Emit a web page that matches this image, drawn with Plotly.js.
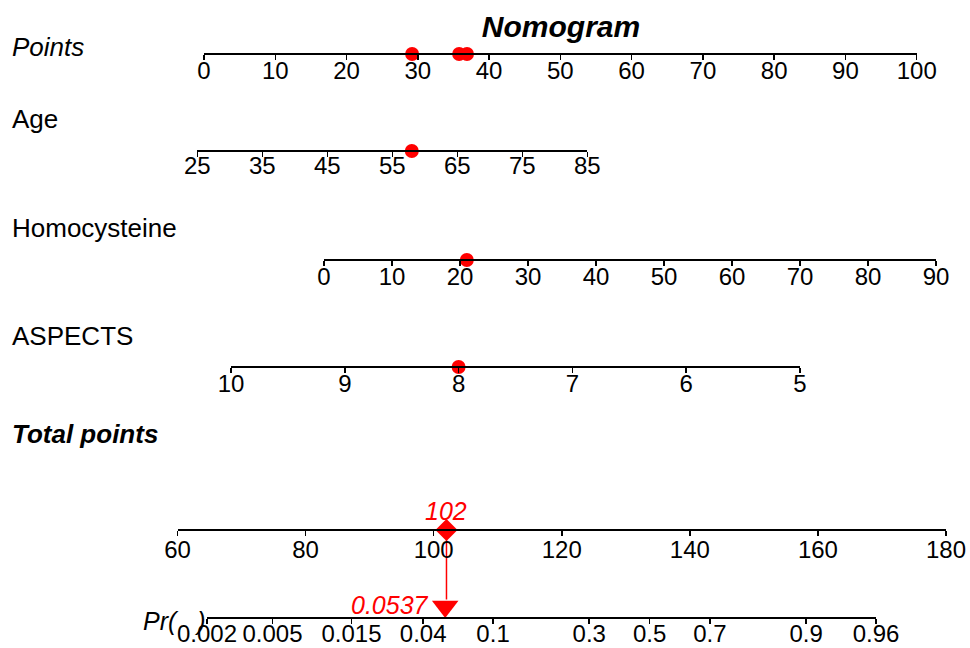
<!DOCTYPE html>
<html>
<head>
<meta charset="utf-8">
<script src="https://cdn.plot.ly/plotly-3.0.1.min.js"></script>
<style>html,body{margin:0;padding:0;background:#fff;}</style>
</head>
<body>
<div id="chart" style="width:970px;height:648px;"></div>
<script>
// ---------- data ----------
const pointsTicks = [0, 10, 20, 30, 40, 50, 60, 70, 80, 90, 100];
const ageTicks = [25, 35, 45, 55, 65, 75, 85];
const hcyTicks = [0, 10, 20, 30, 40, 50, 60, 70, 80, 90];
const aspectsTicks = [10, 9, 8, 7, 6, 5];
const totalTicks = [60, 80, 100, 120, 140, 160, 180];
const probTicks = [0.002, 0.005, 0.015, 0.04, 0.1, 0.3, 0.5, 0.7, 0.9, 0.96];

// patient values
const patientAge = 58;
const patientHcy = 21;
const patientAspects = 8;
const patientPoints = [29.2, 36.9, 35.8];   // points contributed by Age, Homocysteine, ASPECTS
const patientTotal = 102;
const patientProb = 0.0537;

// ---------- layout geometry (pixels) ----------
const W = 970, H = 648;
const rows = {
  points:  {x0: 204, x1: 916.7, y: 54, off: -10},
  age:     {x0: 197.3, x1: 587.3, y: 151, off: -12},
  hcy:     {x0: 324, x1: 936, y: 260, off: -10},
  aspects: {x0: 231, x1: 800, y: 367, off: -10},
  total:   {x0: 177.5, x1: 946, y: 530, off: -7},
  prob:    {x0: 207, x1: 876, y: 617.5, off: -10}
};
const FONT = 'Liberation Sans, Arial, Helvetica, sans-serif';
const RED = '#FF0000';
const logit = p => Math.log(p / (1 - p));

function axis(r, range, tickvals, ticktext) {
  return {
    domain: [r.x0 / W, r.x1 / W],
    range: range,
    anchor: 'free',
    position: 1 - r.y / H,
    side: 'bottom',
    showline: true, linecolor: '#000', linewidth: 2,
    ticks: 'outside', ticklen: 5, tickwidth: 1.5, tickcolor: '#000',
    tickmode: 'array', tickvals: tickvals, ticktext: ticktext || tickvals.map(String),
    showgrid: false, zeroline: false, fixedrange: true,
    tickfont: {family: FONT, size: 24, color: '#000'},
    ticklabelstandoff: r.off
  };
}

const layout = {
  width: W, height: H, autosize: false,
  margin: {l: 0, r: 0, t: 0, b: 0, pad: 0},
  paper_bgcolor: '#fff', plot_bgcolor: 'rgba(0,0,0,0)',
  showlegend: false,
  title: {text: '<b><i>Nomogram</i></b>', x: 561 / W, y: 1 - 26 / H, xanchor: 'center', yanchor: 'middle',
          xref: 'paper', yref: 'paper', font: {family: FONT, size: 30, color: '#000'}},
  yaxis: {domain: [0, 1], range: [H, 0], visible: false, fixedrange: true},
  xaxis:  axis(rows.points, [0, 100], pointsTicks),
  xaxis2: axis(rows.age, [25, 85], ageTicks),
  xaxis3: axis(rows.hcy, [0, 90], hcyTicks),
  xaxis4: axis(rows.aspects, [10, 5], aspectsTicks),
  xaxis5: axis(rows.total, [60, 180], totalTicks),
  xaxis6: axis(rows.prob, [logit(0.002), logit(0.96)], probTicks.map(logit), probTicks.map(String)),
  annotations: []
};

function label(text, x, y, size) {
  layout.annotations.push({text: text, x: x / W, y: 1 - y / H, xref: 'paper', yref: 'paper',
    xanchor: 'left', yanchor: 'middle', showarrow: false,
    font: {family: FONT, size: size || 26, color: '#000'}});
}
label('<i>Points</i>', 10, 47, 26);
label('Age', 10, 119);
label('Homocysteine', 10, 228);
label('ASPECTS', 10, 336);
label('<b><i>Total points</i></b>', 10, 434);
label('<i>Pr(\u00A0\u00A0\u00A0)</i>', 141, 621, 25);

// value labels
layout.annotations.push({text: '<i>' + patientTotal + '</i>', x: patientTotal, xref: 'x5', y: rows.total.y - 19, yref: 'y',
  xanchor: 'center', yanchor: 'middle', showarrow: false, font: {family: FONT, size: 25, color: RED}});
layout.annotations.push({text: '<i>' + patientProb + '</i>', x: logit(patientProb), xref: 'x6', y: rows.prob.y - 13, yref: 'y',
  xanchor: 'right', yanchor: 'middle', xshift: -14, showarrow: false, font: {family: FONT, size: 25, color: RED}});

const dot = {color: RED, size: 14, symbol: 'circle'};
const traces = [
  {x: patientPoints, y: patientPoints.map(() => rows.points.y), xaxis: 'x', yaxis: 'y', mode: 'markers', marker: dot, cliponaxis: false, hoverinfo: 'skip'},
  {x: [patientAge], y: [rows.age.y], xaxis: 'x2', yaxis: 'y', mode: 'markers', marker: dot, cliponaxis: false, hoverinfo: 'skip'},
  {x: [patientHcy], y: [rows.hcy.y], xaxis: 'x3', yaxis: 'y', mode: 'markers', marker: dot, cliponaxis: false, hoverinfo: 'skip'},
  {x: [patientAspects], y: [rows.aspects.y], xaxis: 'x4', yaxis: 'y', mode: 'markers', marker: dot, cliponaxis: false, hoverinfo: 'skip'},
  // arrow from total points to probability
  {x: [patientTotal, patientTotal], y: [rows.total.y, rows.prob.y - 18], xaxis: 'x5', yaxis: 'y', mode: 'lines',
   line: {color: RED, width: 1.5}, cliponaxis: false, hoverinfo: 'skip'},
  {x: [patientTotal], y: [rows.total.y], xaxis: 'x5', yaxis: 'y', mode: 'markers',
   marker: {color: RED, size: 17, symbol: 'diamond'}, cliponaxis: false, hoverinfo: 'skip'},
  {x: [logit(patientProb)], y: [rows.prob.y - 11], xaxis: 'x6', yaxis: 'y', mode: 'markers',
   marker: {color: RED, size: 23, symbol: 'triangle-down'}, cliponaxis: false, hoverinfo: 'skip'}
];

Plotly.newPlot('chart', traces, layout, {staticPlot: true, displayModeBar: false});
</script>
</body>
</html>
